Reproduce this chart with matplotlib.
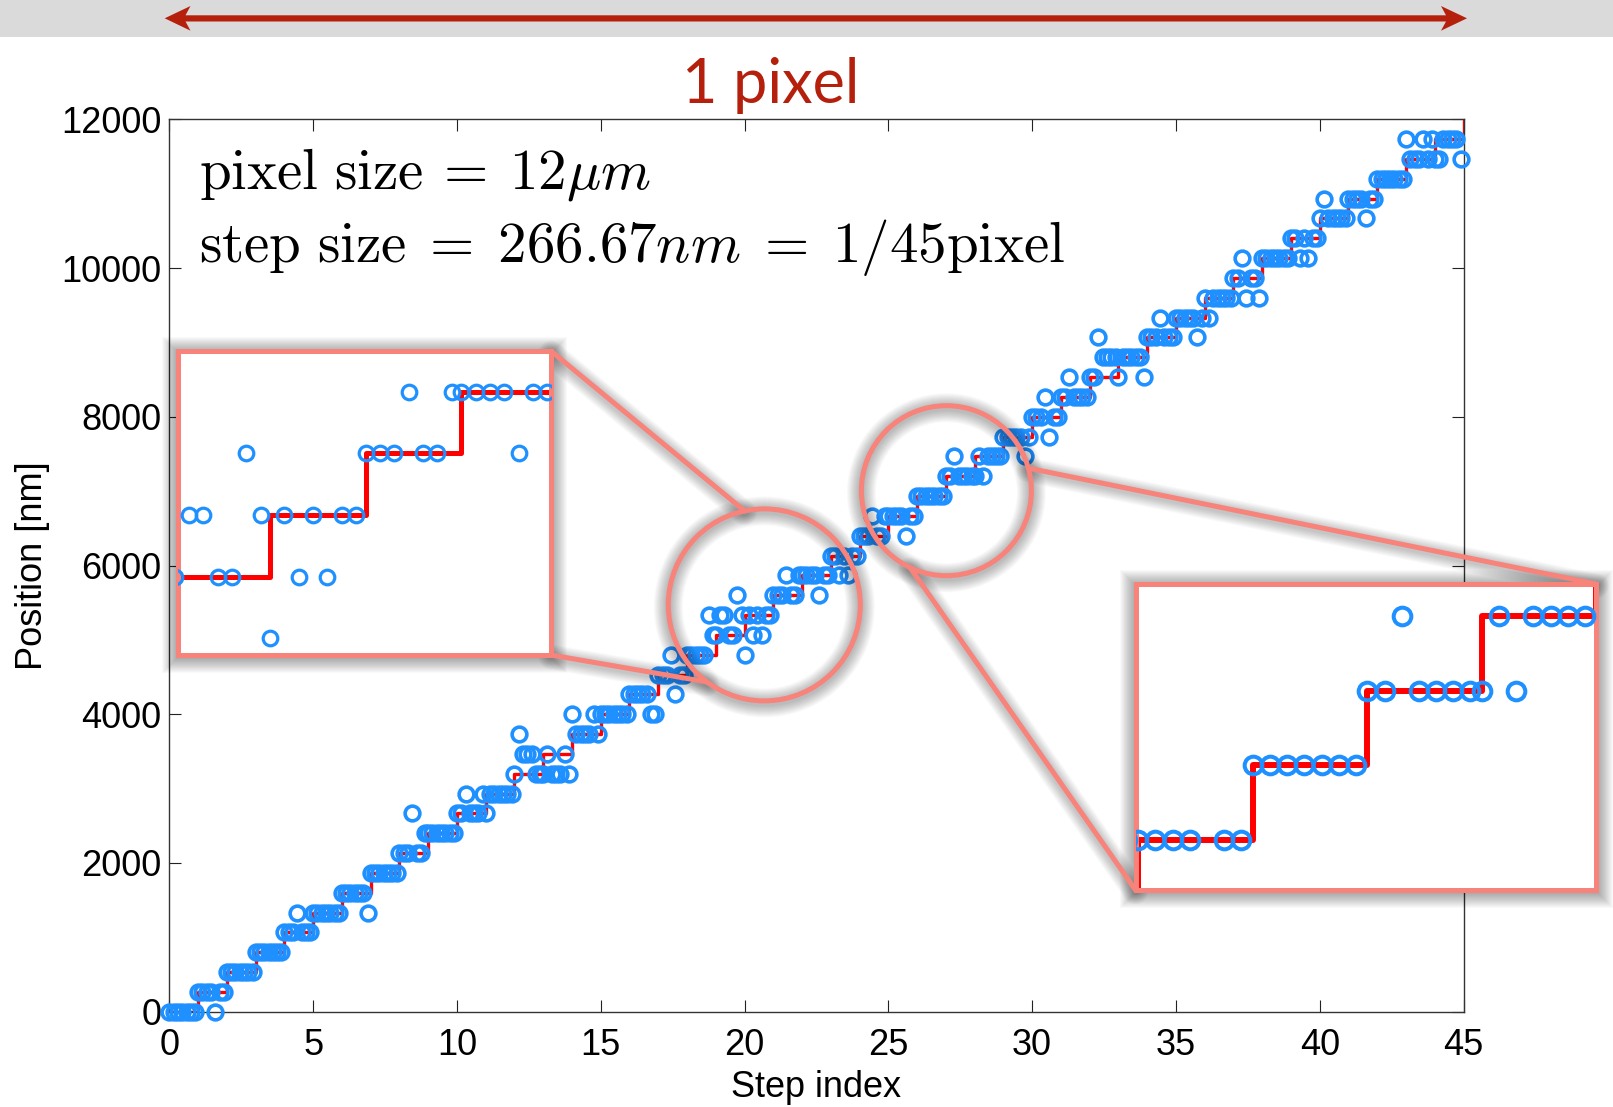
import numpy as np
import matplotlib.pyplot as plt
from matplotlib.patches import Circle, Rectangle, Polygon
from matplotlib.lines import Line2D

W, H = 1613, 1107

plt.rcParams['font.family'] = ['Liberation Sans', 'DejaVu Sans']
plt.rcParams['mathtext.fontset'] = 'cm'

# stage: 45 steps of 266.67 nm over one 12 um pixel
n_steps = 45
step_nm = 12000 / n_steps
# 7 camera samples per step, position inside the step (in steps)
sample_phase = [0.0, 0.15, 0.30, 0.45, 0.60, 0.75, 0.90]
# estimated level minus commanded level for every sample (one row per step)
level_error = [
    [0, 0, 0, 0, 0, 0, 0],     # 0
    [0, 0, 0, 0, -1, 0, 0],    # 1
    [0, 0, 0, 0, 0, 0, 0],     # 2
    [0, 0, 0, 0, 0, 0, 0],     # 3
    [0, 0, 0, 1, 0, 0, 0],     # 4
    [0, 0, 0, 0, 0, 0, 0],     # 5
    [0, 0, 0, 0, 0, 0, -1],    # 6
    [0, 0, 0, 0, 0, 0, 0],     # 7
    [0, 0, 0, 2, 0, 0, 1],     # 8
    [0, 0, 0, 0, 0, 0, 0],     # 9
    [0, 0, 1, 0, 0, 0, 1],     # 10
    [-1, 0, 0, 0, 0, 0, 0],    # 11
    [0, 2, 1, 1, 1, 0, 0],     # 12
    [-1, 0, -1, -1, -1, 0, -1],  # 13
    [1, 0, 0, 0, 0, 1, 0],     # 14
    [0, 0, 0, 0, 0, 0, 0],     # 15
    [0, 0, 0, 0, 0, -1, -1],   # 16
    [0, 0, 0, 1, -1, 0, 0],    # 17
    [0, 0, 0, 0, 0, 2, 1],     # 18
    [0, 1, 1, 0, 0, 2, 1],     # 19
    [-2, 0, -1, 0, -1, 0, 0],  # 20
    [0, 0, 0, 1, 0, 0, 1],     # 21
    [0, 0, 0, 0, -1, 0, 0],    # 22
    [0, 0, -1, 0, -1, 0, 0],   # 23
    [0, 0, 0, 1, 0, 0, 1],     # 24
    [0, 0, 0, 0, -1, 0, 0],    # 25
    [0, 0, 0, 0, 0, 0, 0],     # 26
    [0, 0, 1, 0, 0, 0, 0],     # 27
    [-1, 0, -1, 0, 0, 0, 0],   # 28
    [0, 0, 0, 0, 0, -1, 0],    # 29
    [0, 0, 0, 1, -1, 0, 0],    # 30
    [0, 0, 1, 0, 0, 0, 0],     # 31
    [0, 0, 2, 1, 1, 1, 1],     # 32
    [-1, 0, 0, 0, 0, 0, -1],   # 33
    [0, 0, 0, 1, 0, 0, 0],     # 34
    [0, 0, 0, 0, 0, -1, 0],    # 35
    [0, -1, 0, 0, 0, 0, 0],    # 36
    [0, 0, 1, -1, 0, 0, -1],   # 37
    [0, 0, 0, 0, 0, 0, 0],     # 38
    [0, 0, -1, 0, -1, 0, 0],   # 39
    [0, 1, 0, 0, 0, 0, 0],     # 40
    [0, 0, 0, 0, -1, 0, 0],    # 41
    [0, 0, 0, 0, 0, 0, 0],     # 42
    [1, 0, 0, 0, 1, 0, 1],     # 43
    [-1, -1, 0, 0, 0, 0, -1],  # 44
]

x_ticks = [0, 5, 10, 15, 20, 25, 30, 35, 40, 45]
y_ticks = [0, 2000, 4000, 6000, 8000, 10000, 12000]

# zoomed windows (x in steps, y in step levels)
zoom_left = dict(xlim=(19.03, 22.94), ylim=(17.73, 22.66))
zoom_right = dict(xlim=(24.976, 29.0), ylim=(24.33, 28.43))

step_idx = np.arange(n_steps + 1)
commanded = step_idx * step_nm
xs = np.array([k + p for k in range(n_steps) for p in sample_phase])
measured = np.array([(k + e) * step_nm for k in range(n_steps) for e in level_error[k]])

BLUE = '#1E90FF'
SALMON = '#F7837B'
DARKRED = '#B5200D'

fig = plt.figure(figsize=(W / 100, H / 100), dpi=100)


def px_rect(x0, y0, x1, y1):
    return [x0 / W, 1 - y1 / H, (x1 - x0) / W, (y1 - y0) / H]


ax = fig.add_axes(px_rect(169.3, 119.3, 1463.5, 1011.7), zorder=0)
ax.plot(step_idx, commanded, color='red', lw=2.4, drawstyle='steps-post', zorder=2)
ax.plot(xs, measured, 'o', mfc='none', mec=BLUE, ms=10.6, mew=2.6,
        clip_on=False, zorder=3)
ax.set_xlim(0, 45)
ax.set_ylim(0, 12000)
ax.set_xticks(x_ticks)
ax.set_yticks(y_ticks)
ax.tick_params(direction='in', top=True, right=True, length=8.6, width=0.8,
               labelsize=26, color='#222222')
ax.tick_params(axis='x', pad=11.5)
ax.tick_params(axis='y', pad=5.5)
for s in ax.spines.values():
    s.set_color('#333333')
    s.set_linewidth(1.0)
ax.set_xlabel('Step index', fontsize=26, labelpad=5)
ax.set_ylabel('Position [nm]', fontsize=26, labelpad=8)

ax.text(0.0226, 0.923, r'$\mathrm{pixel\ size}\:=\:12\mu m$',
        transform=ax.transAxes, fontsize=41, va='baseline', zorder=6)
ax.text(0.0226, 0.840, r'$\mathrm{step\ size}\;=\;266.67nm\;=\;1/45\mathrm{pixel}$',
        transform=ax.transAxes, fontsize=41, va='baseline', zorder=6)

# overlay in pixel units for the callout decorations
ov = fig.add_axes([0, 0, 1, 1], zorder=5)
ov.set_xlim(0, W)
ov.set_ylim(H, 0)
ov.axis('off')
ov.patch.set_alpha(0)

# header band with the one-pixel arrow
ov.add_patch(Rectangle((0, 0), W, 36.7, fc='#dadada', ec='none', zorder=1))
arrow = [(164.7, 18.3), (190.5, 6.0), (185.5, 15.3), (1446.0, 15.3),
         (1441.0, 6.0), (1467.0, 18.3), (1441.0, 30.7), (1446.0, 21.5),
         (185.5, 21.5), (190.5, 30.7)]
ov.add_patch(Polygon(arrow, closed=True, fc=DARKRED, ec='none', zorder=2))
ov.text(770.5, 103, '1 pixel', color=DARKRED, fontsize=44, family='Lato',
        ha='center', va='baseline')


def soft_rect(x0, y0, x1, y1, spread=16, alpha=0.022, dy=2):
    for i in range(1, spread + 1):
        ov.add_patch(Rectangle((x0 - i, y0 - i + dy), x1 - x0 + 2 * i, y1 - y0 + 2 * i,
                               fc='k', ec='none', alpha=alpha, zorder=1))


def soft_ring(c, r, spread=12, alpha=0.025, dy=2):
    for i in range(1, spread + 1):
        ov.add_patch(Circle((c[0], c[1] + dy), r, fill=False, ec='k',
                            lw=(5 + 2 * i) * 0.72, alpha=alpha, zorder=1))


def soft_line(p, q, spread=10, alpha=0.025, dy=2):
    for i in range(1, spread + 1):
        ov.add_line(Line2D([p[0], q[0]], [p[1] + dy, q[1] + dy], color='k',
                           lw=(5 + 2 * i) * 0.72, alpha=alpha, zorder=1,
                           solid_capstyle='round'))


def on_ring(c, r, deg):
    a = np.deg2rad(deg)
    return (c[0] + r * np.cos(a), c[1] - r * np.sin(a))


left_box = (177.5, 351, 551, 655)
right_box = (1135.5, 584, 1596.5, 890)
left_c, left_r = (764.3, 604.9), 96
right_c, right_r = (946.4, 490.7), 85

links = [
    (on_ring(left_c, left_r, 101.8), (left_box[2], left_box[1])),
    (on_ring(left_c, left_r, 233.4), (left_box[2], left_box[3])),
    (on_ring(right_c, right_r, 15.4), (right_box[2], right_box[1])),
    (on_ring(right_c, right_r, 244.7), (right_box[0], right_box[3])),
]

soft_rect(*left_box)
soft_rect(*right_box)
soft_ring(left_c, left_r)
soft_ring(right_c, right_r)
for p, q in links:
    soft_line(p, q)
for p, q in links:
    ov.add_line(Line2D([p[0], q[0]], [p[1], q[1]], color=SALMON, lw=3.6,
                       zorder=3, solid_capstyle='round'))
for c, r in [(left_c, left_r), (right_c, right_r)]:
    ov.add_patch(Circle(c, r, fill=False, ec=SALMON, lw=3.6, zorder=3))


def zoom_axes(box, win, ms, mew, lw):
    iax = fig.add_axes(px_rect(*box), zorder=10)
    iax.plot(step_idx, commanded, color='red', lw=lw, drawstyle='steps-post', zorder=2)
    iax.plot(xs, measured, 'o', mfc='none', mec=BLUE, ms=ms, mew=mew, zorder=3)
    iax.set_xlim(*win['xlim'])
    iax.set_ylim(win['ylim'][0] * step_nm, win['ylim'][1] * step_nm)
    iax.set_xticks([])
    iax.set_yticks([])
    for s in iax.spines.values():
        s.set_color(SALMON)
        s.set_linewidth(3.6)
    return iax


zoom_axes(left_box, zoom_left, ms=10.5, mew=2.3, lw=3.6)
zoom_axes(right_box, zoom_right, ms=12.7, mew=2.9, lw=4.3)

fig.savefig('out.png', dpi=100)
